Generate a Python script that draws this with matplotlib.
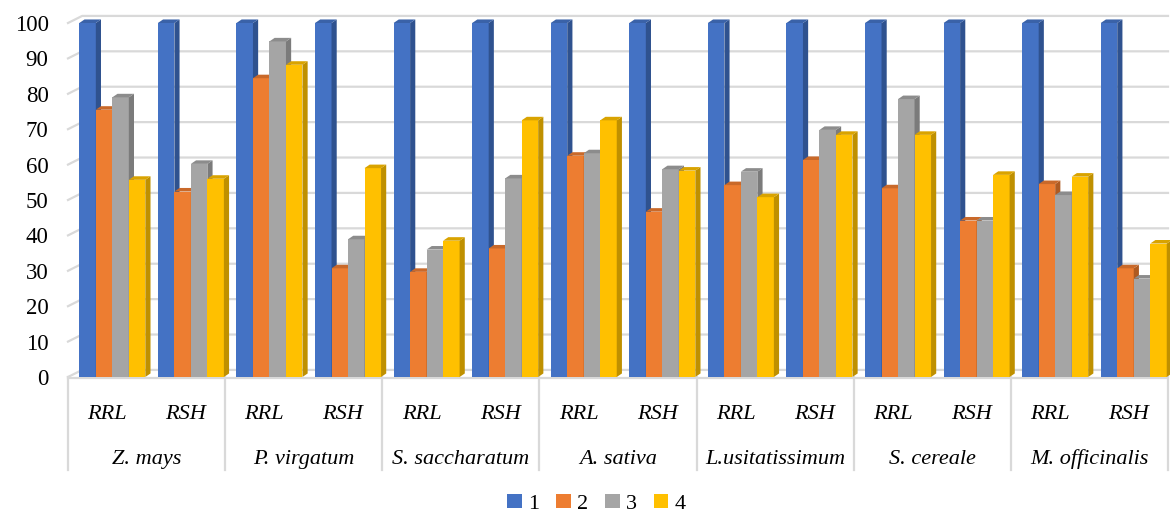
import matplotlib
matplotlib.use("Agg")
import matplotlib.pyplot as plt
from matplotlib.patches import Polygon, Patch
import numpy as np

species = ["Z. mays", "P. virgatum", "S. saccharatum", "A. sativa",
           "L.usitatissimum", "S. cereale", "M. officinalis"]
organs = ["RRL", "RSH"]
series_names = ["1", "2", "3", "4"]

s1 = [100, 100, 100, 100, 100, 100, 100, 100, 100, 100, 100, 100, 100, 100]
s2 = [75.5, 52.4, 84.4, 30.7, 29.7, 36.3, 62.5, 46.7, 54.2, 61.3, 53.3, 44.2, 54.5, 30.7]
s3 = [79.0, 60.2, 94.8, 38.9, 36.0, 56.1, 63.2, 58.7, 58.0, 69.8, 78.5, 44.2, 51.4, 27.8]
s4 = [55.7, 56.0, 88.2, 59.0, 38.5, 72.5, 72.5, 58.3, 50.8, 68.4, 68.4, 57.1, 56.6, 37.7]
series = [s1, s2, s3, s4]

front_colors = ["#4472C4", "#ED7D31", "#A5A5A5", "#FFC000"]
side_colors = ["#2F528F", "#AE5A21", "#7B7B7B", "#BF9000"]
top_colors = ["#3A62A8", "#C9692A", "#8C8C8C", "#D9A300"]

plt.rcParams['font.family'] = ['Liberation Serif', 'DejaVu Serif']

W, H = 1170, 514
fig = plt.figure(figsize=(W / 100, H / 100), dpi=100)
ax_left, ax_right = 68, 1168
ax_top, ax_bot = 23, 377
ax = fig.add_axes([ax_left / W, 1 - ax_bot / H, (ax_right - ax_left) / W, (ax_bot - ax_top) / H])

n = len(s1)
ax.set_xlim(-0.5, n - 0.5)
ax.set_ylim(0, 100)
for sp in ax.spines.values():
    sp.set_visible(False)
ax.set_xticks([])
ax.set_yticks(np.arange(0, 101, 10))
ax.tick_params(axis='y', length=0, pad=14, labelsize=16.5)

# 3D back-wall gridlines
gdx, gdy = 0.18, 2.0
for v in range(0, 101, 10):
    ax.plot([-0.5, -0.5 + gdx, n - 0.5], [v, v + gdy, v + gdy], color="#D9D9D9",
            lw=1.6, zorder=0, clip_on=False)

x = np.arange(n)
bw = 0.21
start = -0.356
dx, dy = 0.066, 1.0
for k, vals in enumerate(series):
    lefts = x + start + k * bw
    ax.bar(lefts, vals, width=bw, align='edge', color=front_colors[k], zorder=3 + k,
           linewidth=0, clip_on=False)
    for l, v in zip(lefts, vals):
        r = l + bw
        side = Polygon([[r, 0], [r + dx, dy], [r + dx, v + dy], [r, v]], closed=True,
                       facecolor=side_colors[k], edgecolor='none', zorder=3 + k, clip_on=False)
        top = Polygon([[l, v], [l + dx, v + dy], [r + dx, v + dy], [r, v]], closed=True,
                      facecolor=top_colors[k], edgecolor='none', zorder=3 + k, clip_on=False)
        ax.add_patch(side)
        ax.add_patch(top)

# floor / category axis line
ax.plot([-0.5, n - 0.5], [-0.3, -0.3], color="#D9D9D9", lw=1.6, clip_on=False, zorder=2)

# category labels
xt = ax.get_xaxis_transform()
for i in range(n):
    ax.text(i, -0.105, organs[i % 2], transform=xt, ha='center', va='center',
            fontsize=16, style='italic')
for j, sname in enumerate(species):
    ax.text(2 * j + 0.5, -0.232, sname, transform=xt, ha='center', va='center',
            fontsize=16, style='italic')
for b in range(len(species) + 1):
    ax.plot([2 * b - 0.5, 2 * b - 0.5], [0, -0.263], transform=xt, color="#D9D9D9",
            lw=1.6, clip_on=False)

handles = [Patch(facecolor=c, edgecolor='none', label=s) for c, s in zip(front_colors, series_names)]
fig.legend(handles=handles, loc='center', bbox_to_anchor=(0.51, 0.02), ncol=4,
           frameon=False, fontsize=16, handlelength=0.65, handleheight=0.65,
           handletextpad=0.3, columnspacing=0.75)

fig.savefig("out.png", dpi=100)
